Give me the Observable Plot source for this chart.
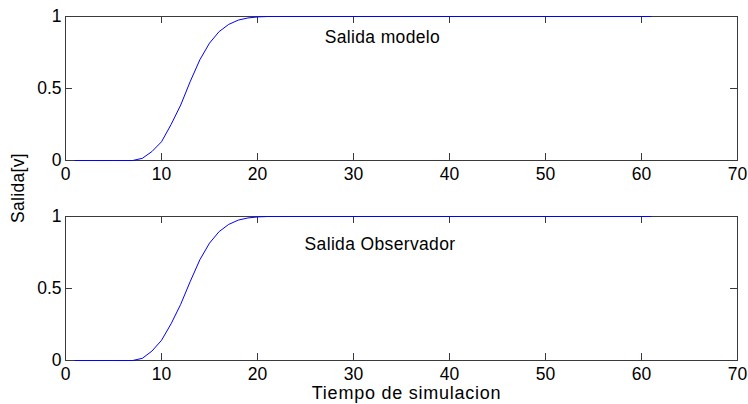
<!DOCTYPE html>
<html><head><meta charset="utf-8">
<script src="https://cdn.jsdelivr.net/npm/d3@7"></script>
<script src="https://cdn.jsdelivr.net/npm/@observablehq/plot@0.6"></script>
<style>
body{margin:0;background:#fff;width:748px;height:404px;overflow:hidden;position:relative;font-family:"Liberation Sans",Arial,sans-serif;}
#top{position:absolute;left:0;top:0}
#bot{position:absolute;left:0;top:200px}
#ylab{position:absolute;left:19.3px;top:187.5px;transform:translate(-50%,-50%) rotate(-90deg);font-size:17.5px;line-height:1;white-space:nowrap;color:#000;letter-spacing:0.3px}
</style></head><body>
<div id="top"></div><div id="bot"></div><div id="ylab">Salida[v]</div>
<script>
const time = [1,2,3,4,5,6,7,8,9,10,11,12,13,14,15,16,17,18,19,20,21,22,61];
const salidaModelo = [0,0,0,0,0,0,0,0.015,0.062,0.13,0.25,0.385,0.55,0.70,0.815,0.895,0.945,0.975,0.99,0.997,1,1,1];
const salidaObservador = [0,0,0,0,0,0,0,0.015,0.065,0.14,0.255,0.39,0.55,0.70,0.815,0.895,0.945,0.975,0.99,0.997,1,1,1];
const xTicks = [0,10,20,30,40,50,60,70];
const yTicks = [0,0.5,1];
const notesTop = [{t: 27.0, v: 0.9, text: "Salida modelo"}];
const notesBot = [{t: 24.9, v: 0.852, text: "Salida Observador"}];
const xLabel = "Tiempo de simulacion";

const W = 748, ML = 65, MR = 11, MT = 16;
const frameW = W - ML - MR, frameH = 144, tick = 7;
const axisColor = "#3a3a3a";

function panel(values, notes, height, extra) {
  const data = time.map((t, i) => ({t, v: values[i]}));
  return Plot.plot({
    width: W, height,
    marginLeft: ML, marginRight: MR, marginTop: MT, marginBottom: height - MT - frameH,
    style: {fontSize: "17.5px", fontFamily: "'Liberation Sans', Arial, sans-serif", color: "#000", background: "#fff"},
    x: {domain: [0, 70]},
    y: {domain: [0, 1]},
    marks: [
      Plot.frame({stroke: axisColor}),
      Plot.tickX(xTicks, {x: d => d, insetTop: frameH - tick, stroke: axisColor}),
      Plot.tickX(xTicks, {x: d => d, insetBottom: frameH - tick, stroke: axisColor}),
      Plot.tickY(yTicks, {y: d => d, insetRight: frameW - tick, stroke: axisColor}),
      Plot.tickY(yTicks, {y: d => d, insetLeft: frameW - tick, stroke: axisColor}),
      Plot.line(data, {x: "t", y: "v", stroke: "#0000ff", strokeWidth: 1}),
      Plot.axisX({anchor: "bottom", ticks: xTicks, tickSize: 0, tickPadding: 7, label: null, tickFormat: d => String(d)}),
      Plot.axisY({anchor: "left", ticks: yTicks, tickSize: 0, tickPadding: 4, label: null, tickFormat: d => String(d)}),
      Plot.text(notes, {x: "t", y: "v", text: "text", textAnchor: "start", lineAnchor: "top", fill: "#000"}),
      ...extra
    ]
  });
}

const topSvg = panel(salidaModelo, notesTop, 200, []);
const botSvg = panel(salidaObservador, notesBot, 204, [
  Plot.text([xLabel], {frameAnchor: "bottom", lineAnchor: "top", dy: 26, dx: 5, fill: "#000", fontSize: 18})
]);
document.getElementById("top").append(topSvg);
document.getElementById("bot").append(botSvg);
// slightly wider letter spacing, like the original renderer
d3.selectAll('svg g[aria-label="text"] text').style("letter-spacing", "0.35px");
d3.select(botSvg).selectAll('g[aria-label="text"]').filter((d, i, n) => i === n.length - 1)
  .selectAll("text").style("letter-spacing", "0.75px");
</script>
</body></html>
